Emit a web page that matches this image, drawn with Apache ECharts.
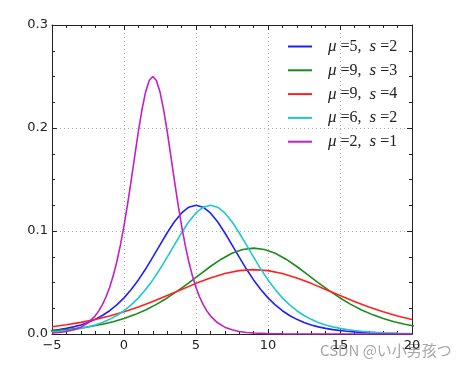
<!DOCTYPE html>
<html><head><meta charset="utf-8">
<script src="https://cdn.jsdelivr.net/npm/echarts@6/dist/echarts.min.js"></script>
<style>html,body{margin:0;padding:0;background:#fff}#c{width:464px;height:371px}</style>
</head><body><div id="c"></div>
<script>
// Series names (legend)
const names = ['mu=5, s=2', 'mu=9, s=3', 'mu=9, s=4', 'mu=6, s=2', 'mu=2, s=1'];
const legendMu = ['5', '9', '9', '6', '2'];
const legendS = ['2', '3', '4', '2', '1'];
const colors = ['#1f1fff', '#1a8c1a', '#ff2020', '#20c8c8', '#c020c8'];

// Tick labels
const xTicks = [-5, 0, 5, 10, 15, 20];
const yTicks = [0.0, 0.1, 0.2, 0.3];

// mu=5, s=2  (x, y)
const xA = [-5,-4.5,-4,-3.5,-3,-2.5,-2,-1.5,-1,-0.5,0,0.5,1,1.5,2,2.5,3,3.5,4,4.5,5,5.5,6,6.5,7,7.5,8,8.5,9,9.5,10,10.5,11,11.5,12,12.5,13,13.5,14,14.5,15,15.5,16,16.5,17,18,19,20];
const yA = [0.003324,0.004252,0.005433,0.006933,0.008832,0.011225,0.014227,0.017967,0.022589,0.028239,0.035052,0.043129,0.052497,0.063065,0.074573,0.086552,0.098306,0.108948,0.117502,0.123067,0.125,0.123067,0.117502,0.108948,0.098306,0.086552,0.074573,0.063065,0.052497,0.043129,0.035052,0.028239,0.022589,0.017967,0.014227,0.011225,0.008832,0.006933,0.005433,0.004252,0.003324,0.002597,0.002027,0.001582,0.001234,0.000749,0.000455,0.000276];

// mu=9, s=3
const xB = [-5.25,-4.5,-3.75,-3,-2.25,-1.5,-0.75,0,0.75,1.5,2.25,3,3.75,4.5,5.25,6,6.75,7.5,8.25,9,9.75,10.5,11.25,12,12.75,13.5,14.25,15,15.75,16.5,17.25,18,18.75,19.5,20.25];
const yB = [0.002835,0.003622,0.004622,0.005888,0.007483,0.009484,0.011978,0.015059,0.018826,0.023368,0.028753,0.034998,0.042043,0.049715,0.057701,0.065537,0.072632,0.078334,0.082045,0.083333,0.082045,0.078334,0.072632,0.065537,0.057701,0.049715,0.042043,0.034998,0.028753,0.023368,0.018826,0.015059,0.011978,0.009484,0.007483];

// mu=9, s=4
const xC = [-5,-4,-3,-2,-1,0,1,2,3,4,5,6,7,8,9,10,11,12,13,14,15,16,17,18,19,20];
const yC = [0.007113,0.008983,0.011294,0.014119,0.017526,0.021565,0.026249,0.031532,0.037287,0.043276,0.049153,0.054474,0.058751,0.061534,0.0625,0.061534,0.058751,0.054474,0.049153,0.043276,0.037287,0.031532,0.026249,0.021565,0.017526,0.014119];

// mu=6, s=2
const xD = [-5,-4.5,-4,-3.5,-3,-2.5,-2,-1.5,-1,-0.5,0,0.5,1,1.5,2,2.5,3,3.5,4,4.5,5,5.5,6,6.5,7,7.5,8,8.5,9,9.5,10,10.5,11,11.5,12,12.5,13,13.5,14,14.5,15,15.5,16,16.5,17,17.5,18,19,20];
const yD = [0.002027,0.002597,0.003324,0.004252,0.005433,0.006933,0.008832,0.011225,0.014227,0.017967,0.022589,0.028239,0.035052,0.043129,0.052497,0.063065,0.074573,0.086552,0.098306,0.108948,0.117502,0.123067,0.125,0.123067,0.117502,0.108948,0.098306,0.086552,0.074573,0.063065,0.052497,0.043129,0.035052,0.028239,0.022589,0.017967,0.014227,0.011225,0.008832,0.006933,0.005433,0.004252,0.003324,0.002597,0.002027,0.001582,0.001234,0.000749,0.000455];

// mu=2, s=1
const xE = [-5,-4.5,-4,-3.5,-3,-2.5,-2,-1.75,-1.5,-1.25,-1,-0.75,-0.5,-0.25,0,0.25,0.5,0.75,1,1.25,1.5,1.75,2,2.25,2.5,2.75,3,3.25,3.5,3.75,4,4.25,4.5,4.75,5,5.25,5.5,5.75,6,6.5,7,7.5,8,8.5,9,10,11,12,14,16,20];
const yE = [0.000910,0.001498,0.002467,0.004054,0.006648,0.010866,0.017663,0.022449,0.028453,0.035933,0.045177,0.056477,0.070103,0.086258,0.104994,0.126129,0.149146,0.173104,0.196612,0.217896,0.235003,0.246134,0.25,0.246134,0.235003,0.217896,0.196612,0.173104,0.149146,0.126129,0.104994,0.086258,0.070103,0.056477,0.045177,0.035933,0.028453,0.022449,0.017663,0.010866,0.006648,0.004054,0.002467,0.001498,0.000910,0.000335,0.000123,0.000045,0.000006,0.000001,0];

const xs = [xA, xB, xC, xD, xE];
const ys = [yA, yB, yC, yD, yE];

const chart = echarts.init(document.getElementById('c'));
const axisCol = '#222';
const fmtX = v => String(v).replace('-', '\u2212');
const fmtY = v => Number(v).toFixed(1);

function baseX(pos, show) {
  return {
    type: 'value', position: pos, min: xTicks[0], max: xTicks[xTicks.length-1], interval: 5,
    axisLine: {show: true, onZero: false, lineStyle: {color: axisCol, width: 1}},
    axisTick: {show: true, inside: true, length: 5, lineStyle: {color: axisCol}},
    minorTick: {show: true, splitNumber: 5, length: 3, lineStyle: {color: axisCol}},
    axisLabel: {show: show, formatter: fmtX, color: '#222', fontFamily: 'DejaVu Sans', fontSize: 13, margin: 5},
    splitLine: {show: show, lineStyle: {color: '#aaa', type: [1, 3], width: 1}}
  };
}
function baseY(pos, show) {
  return {
    type: 'value', position: pos, min: yTicks[0], max: yTicks[yTicks.length-1], interval: 0.1,
    axisLine: {show: true, onZero: false, lineStyle: {color: axisCol, width: 1}},
    axisTick: {show: true, inside: true, length: 5, lineStyle: {color: axisCol}},
    minorTick: {show: true, splitNumber: 4, length: 3, lineStyle: {color: axisCol}},
    axisLabel: {show: show, formatter: fmtY, color: '#222', fontFamily: 'DejaVu Sans', fontSize: 13, margin: 4},
    splitLine: {show: show, lineStyle: {color: '#aaa', type: [1, 3], width: 1}}
  };
}

const rich = {
  i: {fontFamily: 'Liberation Serif', fontStyle: 'italic', fontSize: 17, color: '#222', lineHeight: 16},
  n: {fontFamily: 'Liberation Serif', fontSize: 16, color: '#222', lineHeight: 16}
};

chart.setOption({
  animation: false,
  backgroundColor: '#fff',
  grid: {left: 52, right: 52, top: 25, bottom: 37},
  xAxis: [baseX('bottom', true), baseX('top', false)],
  yAxis: [baseY('left', true), baseY('right', false)],
  legend: {
    orient: 'vertical', left: 283, top: 33, itemWidth: 24, itemHeight: 2, itemGap: 6.8,
    icon: 'rect',
    data: names,
    formatter: function (name) {
      const k = names.indexOf(name);
      return '{i|\u03bc}{n| =' + legendMu[k] + ',  }{i|s}{n| =' + legendS[k] + '}';
    },
    textStyle: {rich: rich, padding: [0, 0, 0, 11], lineHeight: 16}
  },
  series: names.map((nm, k) => ({
    name: nm, type: 'line', symbol: 'none', smooth: false, clip: true,
    color: colors[k],
    lineStyle: {color: colors[k], width: 1.6},
    data: xs[k].map((x, j) => [x, ys[k][j]])
  })),
  graphic: [{
    type: 'text', left: 320, top: 343,
    style: {text: 'CSDN @い小男孩つ', fill: 'rgba(130,130,130,0.7)', font: '15px "Noto Sans CJK JP", sans-serif'}
  }]
});
</script></body></html>
